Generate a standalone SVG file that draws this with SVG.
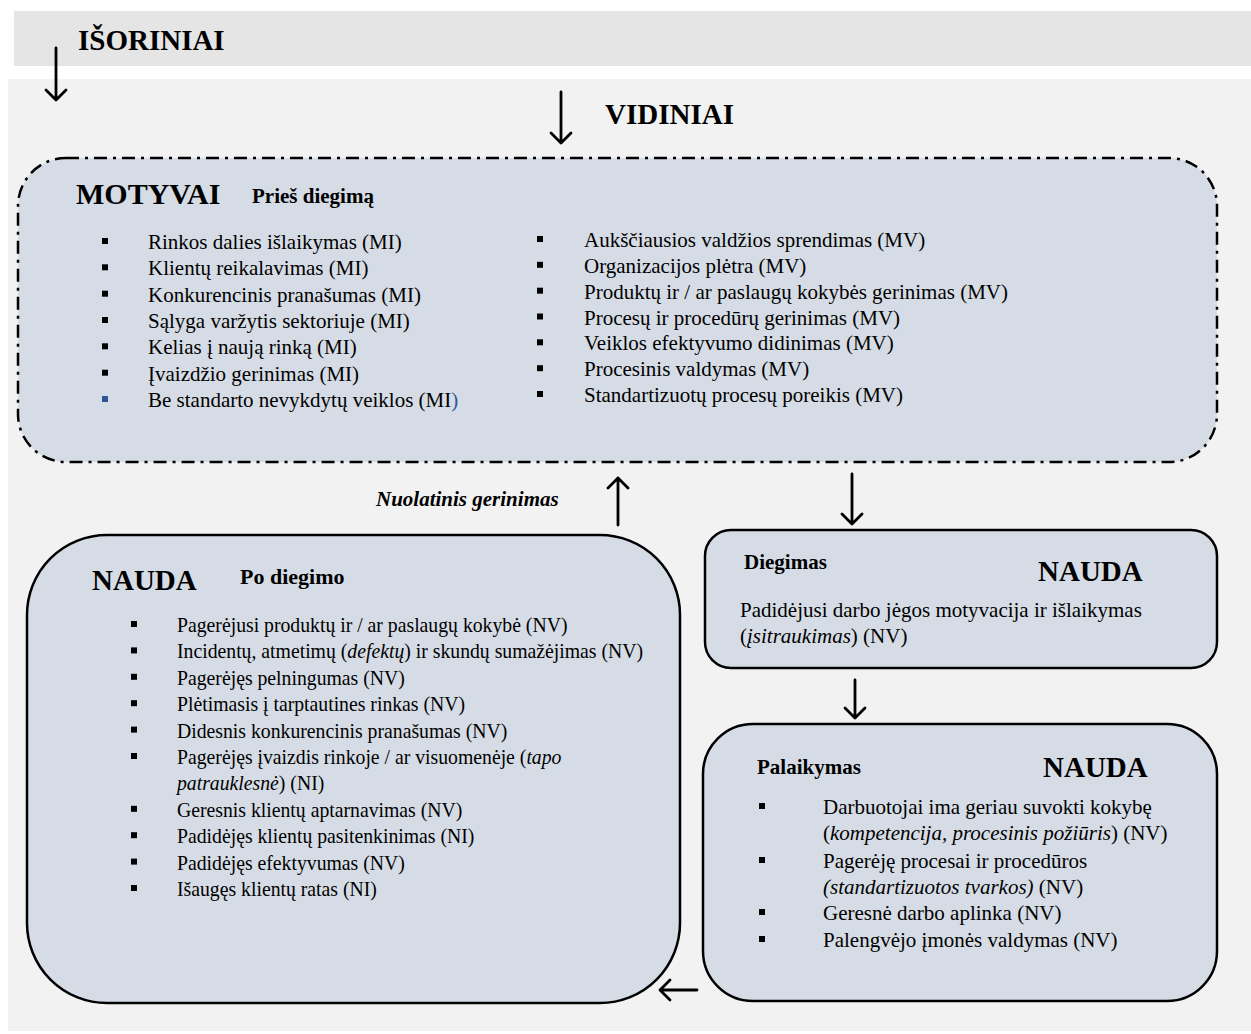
<svg xmlns="http://www.w3.org/2000/svg" width="1251" height="1034" viewBox="0 0 1251 1034">
<style>
.t{font-family:"Liberation Serif","Times New Roman",serif;font-size:21px;fill:#000}
.b{font-family:"Liberation Serif","Times New Roman",serif;font-weight:bold;fill:#000}
.box{fill:#d6dce5;stroke:#000;stroke-width:2.5}
.arr{fill:none;stroke:#000;stroke-width:2.8;stroke-linecap:round;stroke-linejoin:round}
.bul{fill:#000}
</style>
<rect x="14" y="11" width="1237" height="55" fill="#e5e5e5"/>
<rect x="8" y="79" width="1243" height="952" fill="#f2f2f2"/>
<text class="b" x="78" y="50" font-size="29">IŠORINIAI</text>
<text class="b" x="605" y="124" font-size="29">VIDINIAI</text>

<g id="motyvai">
<rect x="18" y="158" width="1199" height="304" rx="48" fill="#d6dce5" stroke="#000" stroke-width="2.5" stroke-dasharray="13 6 3 6"/>
<text class="b" x="76" y="204" font-size="30">MOTYVAI</text>
<text class="b" x="252" y="203" font-size="21">Prieš diegimą</text>
<g class="t">
<text x="148" y="249">Rinkos dalies išlaikymas (MI)</text>
<text x="148" y="275.3">Klientų reikalavimas (MI)</text>
<text x="148" y="301.7">Konkurencinis pranašumas (MI)</text>
<text x="148" y="328">Sąlyga varžytis sektoriuje (MI)</text>
<text x="148" y="354.3">Kelias į naują rinką (MI)</text>
<text x="148" y="380.7">Įvaizdžio gerinimas (MI)</text>
<text x="148" y="407">Be standarto nevykdytų veiklos (MI<tspan fill="#2f5597">)</tspan></text>
<text x="584" y="247">Aukščiausios valdžios sprendimas (MV)</text>
<text x="584" y="272.8">Organizacijos plėtra (MV)</text>
<text x="584" y="298.7">Produktų ir / ar paslaugų kokybės gerinimas (MV)</text>
<text x="584" y="324.5">Procesų ir procedūrų gerinimas (MV)</text>
<text x="584" y="350.3">Veiklos efektyvumo didinimas (MV)</text>
<text x="584" y="376.2">Procesinis valdymas (MV)</text>
<text x="584" y="402">Standartizuotų procesų poreikis (MV)</text>
</g>
<g class="bul">
<rect x="102" y="238" width="6" height="6"/>
<rect x="102" y="264.3" width="6" height="6"/>
<rect x="102" y="290.7" width="6" height="6"/>
<rect x="102" y="317" width="6" height="6"/>
<rect x="102" y="343.3" width="6" height="6"/>
<rect x="102" y="369.7" width="6" height="6"/>
<rect x="102" y="396" width="6" height="6" fill="#2f5597"/>
<rect x="537" y="236" width="6" height="6"/>
<rect x="537" y="261.8" width="6" height="6"/>
<rect x="537" y="287.7" width="6" height="6"/>
<rect x="537" y="313.5" width="6" height="6"/>
<rect x="537" y="339.3" width="6" height="6"/>
<rect x="537" y="365.2" width="6" height="6"/>
<rect x="537" y="391" width="6" height="6"/>
</g>
</g>

<g id="nauda-po">
<rect class="box" x="27" y="535" width="653" height="468" rx="80"/>
<text class="b" x="92" y="590" font-size="29">NAUDA</text>
<text class="b" x="240" y="584" font-size="22">Po diegimo</text>
<g class="t" transform="translate(177 0) scale(0.94 1)">
<text x="0" y="632">Pagerėjusi produktų ir / ar paslaugų kokybė (NV)</text>
<text x="0" y="658.4">Incidentų, atmetimų (<tspan font-style="italic">defektų</tspan>) ir skundų sumažėjimas (NV)</text>
<text x="0" y="684.8">Pagerėjęs pelningumas (NV)</text>
<text x="0" y="711.2">Plėtimasis į tarptautines rinkas (NV)</text>
<text x="0" y="737.6">Didesnis konkurencinis pranašumas (NV)</text>
<text x="0" y="764">Pagerėjęs įvaizdis rinkoje / ar visuomenėje (<tspan font-style="italic">tapo</tspan></text>
<text x="0" y="790.4"><tspan font-style="italic">patrauklesnė</tspan>) (NI)</text>
<text x="0" y="816.8">Geresnis klientų aptarnavimas (NV)</text>
<text x="0" y="843.2">Padidėjęs klientų pasitenkinimas (NI)</text>
<text x="0" y="869.6">Padidėjęs efektyvumas (NV)</text>
<text x="0" y="896">Išaugęs klientų ratas (NI)</text>
</g>
<g class="bul">
<rect x="131" y="621" width="6" height="6"/>
<rect x="131" y="647.4" width="6" height="6"/>
<rect x="131" y="673.8" width="6" height="6"/>
<rect x="131" y="700.2" width="6" height="6"/>
<rect x="131" y="726.6" width="6" height="6"/>
<rect x="131" y="753" width="6" height="6"/>
<rect x="131" y="805.8" width="6" height="6"/>
<rect x="131" y="832.2" width="6" height="6"/>
<rect x="131" y="858.6" width="6" height="6"/>
<rect x="131" y="885" width="6" height="6"/>
</g>
</g>

<g id="diegimas">
<rect class="box" x="705" y="530" width="512" height="138" rx="26"/>
<text class="b" x="744" y="569" font-size="21">Diegimas</text>
<text class="b" x="1038" y="581" font-size="29">NAUDA</text>
<text class="t" x="740" y="617">Padidėjusi darbo jėgos motyvacija ir išlaikymas</text>
<text class="t" x="740" y="643">(<tspan font-style="italic">įsitraukimas</tspan>) (NV)</text>
</g>

<g id="palaikymas">
<rect class="box" x="703" y="724" width="514" height="277" rx="50"/>
<text class="b" x="757" y="774" font-size="21">Palaikymas</text>
<text class="b" x="1043" y="777" font-size="29">NAUDA</text>
<g class="t">
<text x="823" y="814">Darbuotojai ima geriau suvokti kokybę</text>
<text x="823" y="840">(<tspan font-style="italic">kompetencija, procesinis požiūris</tspan>) (NV)</text>
<text x="823" y="868">Pagerėję procesai ir procedūros</text>
<text x="823" y="894"><tspan font-style="italic">(standartizuotos tvarkos)</tspan> (NV)</text>
<text x="823" y="920">Geresnė darbo aplinka (NV)</text>
<text x="823" y="947">Palengvėjo įmonės valdymas (NV)</text>
</g>
<g class="bul">
<rect x="759" y="803" width="6" height="6"/>
<rect x="759" y="857" width="6" height="6"/>
<rect x="759" y="909" width="6" height="6"/>
<rect x="759" y="936" width="6" height="6"/>
</g>
</g>

<g id="connectors">
<path class="arr" d="M56 48 V100 M46 90 L56 100 L66 90"/>
<path class="arr" d="M561 92 V143 M551 133 L561 143 L571 133"/>
<path class="arr" d="M618 525 V478 M608 488 L618 478 L628 488"/>
<path class="arr" d="M852 474 V524 M842 514 L852 524 L862 514"/>
<path class="arr" d="M855 680 V718 M845 708 L855 718 L865 708"/>
<path class="arr" d="M697 990 H660 M670 980 L660 990 L670 1000"/>
<text class="b" x="376" y="506" font-size="21" font-style="italic">Nuolatinis gerinimas</text>
</g>
</svg>
